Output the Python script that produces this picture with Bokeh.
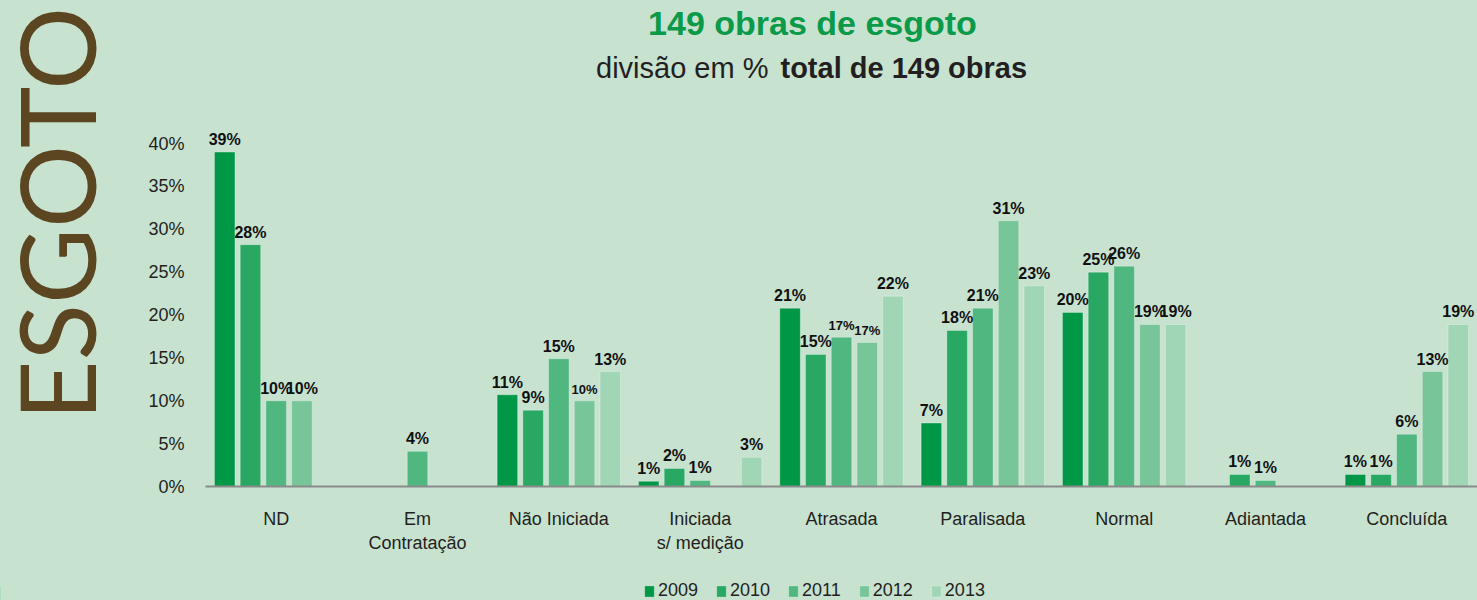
from bokeh.plotting import figure
from bokeh.layouts import row, column
from bokeh.models import (ColumnDataSource, FactorRange, Range1d, Label, LabelSet,
                          Legend, LegendItem, FixedTicker, PrintfTickFormatter)
from bokeh.transform import dodge
from bokeh.core.properties import value
from bokeh.embed import file_html
from bokeh.resources import INLINE

# ---------------- data ----------------
categories = ["ND", "Em\nContratação", "Não Iniciada", "Iniciada\ns/ medição", "Atrasada",
              "Paralisada", "Normal", "Adiantada", "Concluída"]
years = ["2009", "2010", "2011", "2012", "2013"]
v2009 = [39.0, 0.0, 10.7, 0.6, 20.8, 7.4, 20.3, 0.0, 1.4]
v2010 = [28.2, 0.0, 8.9, 2.1, 15.4, 18.2, 25.0, 1.4, 1.4]
v2011 = [10.0, 4.1, 14.9, 0.7, 17.4, 20.8, 25.7, 0.7, 6.1]
v2012 = [10.0, 0.0, 10.0, 0.0, 16.8, 31.0, 18.9, 0.0, 13.4]
v2013 = [0.0, 0.0, 13.4, 3.4, 22.2, 23.4, 18.9, 0.0, 18.9]
series = [v2009, v2010, v2011, v2012, v2013]
y_ticks = [0, 5, 10, 15, 20, 25, 30, 35, 40]
small_labels = [("Não Iniciada", "2012"), ("Atrasada", "2011"), ("Atrasada", "2012")]

colors = ["#009846", "#28a862", "#50b780", "#77c599", "#a0d6b5"]
BG = "#c8e2d0"
DARK = "#231f20"
FONT = "Liberation Sans"

SIDE_W = 120
MAIN_H = 572
FRAME_B = 486

# ---------------- main chart ----------------
p = figure(x_range=FactorRange(factors=categories, range_padding=0),
           y_range=Range1d(0, 56.68),
           width=1477 - SIDE_W, height=MAIN_H, output_backend="svg", toolbar_location=None,
           min_border_left=205 - SIDE_W, min_border_right=0, min_border_top=0,
           min_border_bottom=MAIN_H - FRAME_B,
           background_fill_color=None, border_fill_color=BG, outline_line_color=None)
p.xgrid.visible = False
p.ygrid.visible = False

p.yaxis.ticker = FixedTicker(ticks=y_ticks)
p.yaxis.formatter = PrintfTickFormatter(format="%d%%")
p.yaxis.axis_line_color = None
p.yaxis.major_tick_line_color = None
p.yaxis.minor_tick_line_color = None
p.yaxis.major_tick_out = 0
p.yaxis.major_tick_in = 0
p.yaxis.major_label_standoff = 21
p.yaxis.major_label_text_font = FONT
p.yaxis.major_label_text_font_size = "18px"
p.yaxis.major_label_text_color = DARK

p.xaxis.axis_line_color = "#8a8a8a"
p.xaxis.axis_line_width = 2
p.xaxis.major_tick_line_color = None
p.xaxis.minor_tick_line_color = None
p.xaxis.major_tick_out = 0
p.xaxis.major_tick_in = 0
p.xaxis.major_label_standoff = 22
p.xaxis.major_label_text_font = FONT
p.xaxis.major_label_text_font_size = "18px"
p.xaxis.major_label_text_color = DARK

slot = 0.182
bar_w = 0.145
for j, (yr, vals, col) in enumerate(zip(years, series, colors)):
    cats = [c for c, v in zip(categories, vals) if v > 0]
    vs = [v for v in vals if v > 0]
    labels = ["%d%%" % round(v) for v in vs]
    sizes = ["13px" if (c, yr) in small_labels else "16px" for c in cats]
    src = ColumnDataSource(dict(cat=cats, val=vs, label=labels, size=sizes))
    off = (j - 2) * slot
    p.vbar(x=dodge("cat", off, range=p.x_range), top="val", width=bar_w, source=src,
           fill_color=col, line_color="#ffffff", line_alpha=0.3, line_width=1)
    p.add_layout(LabelSet(x=dodge("cat", off, range=p.x_range), y="val", text="label",
                          source=src, text_align="center", text_baseline="bottom",
                          y_offset=4, text_font=value(FONT), text_font_style="bold",
                          text_font_size={"field": "size"}, text_color="#111111"))

# titles (x in screen px relative to the plot frame)
p.add_layout(Label(x=607, x_units="screen", y=54.0, text="149 obras de esgoto",
                   text_align="center", text_baseline="middle",
                   text_font=FONT, text_font_style="bold", text_font_size="34px",
                   text_color="#0a9a4a"))
p.add_layout(Label(x=563, x_units="screen", y=48.75, text="divisão em %",
                   text_align="right", text_baseline="middle",
                   text_font=FONT, text_font_size="29px", text_color=DARK))
p.add_layout(Label(x=575, x_units="screen", y=48.75, text="total de 149 obras",
                   text_align="left", text_baseline="middle",
                   text_font=FONT, text_font_style="bold", text_font_size="29px",
                   text_color=DARK))

# ---------------- side title (frame aligned with main frame: 0..486 px) ----------------
side = figure(width=SIDE_W, height=MAIN_H, x_range=Range1d(0, SIDE_W),
              y_range=Range1d(0, FRAME_B), x_axis_type=None, y_axis_type=None,
              output_backend="svg", toolbar_location=None, min_border=0,
              background_fill_color=BG, border_fill_color=BG, outline_line_color=None)
side.xgrid.visible = False
side.ygrid.visible = False
side.add_layout(Label(x=55, y=FRAME_B - 420, text="ESGOTO", angle=1.5707963,
                      text_align="left", text_baseline="alphabetic",
                      text_font="Lato", text_font_size="104px", text_color="#5b4621"))

# ---------------- legend strip ----------------
LEG_H = 600 - MAIN_H
lf = figure(width=1477, height=LEG_H, x_range=Range1d(0, 1), y_range=Range1d(0, 1),
            x_axis_type=None, y_axis_type=None, output_backend="svg",
            toolbar_location=None, min_border=0,
            background_fill_color=BG, border_fill_color=BG, outline_line_color=None)
lf.xgrid.visible = False
lf.ygrid.visible = False
items = []
for yr, col in zip(years, colors):
    # off-screen proxy glyph, only used to draw the legend swatch
    r = lf.vbar(x=[-5], top=[0.5], width=0.1, fill_color=col, line_color="#ffffff",
                line_alpha=0.3, line_width=1)
    items.append(LegendItem(label=yr, renderers=[r]))
legend = Legend(items=items, orientation="horizontal", location=(643, -1),
                background_fill_alpha=0, border_line_color=None,
                padding=0, margin=0, spacing=17, label_standoff=3,
                glyph_width=12, glyph_height=14,
                label_text_font=FONT, label_text_font_size="18px",
                label_text_color=DARK)
lf.add_layout(legend, "center")

layout = column(row(side, p, spacing=0), lf, spacing=0)
html = file_html(layout, INLINE)
html = html.replace("<head>", "<head><style>html, body { background: %s; }</style>" % BG, 1)
open("out.html", "w").write(html)
